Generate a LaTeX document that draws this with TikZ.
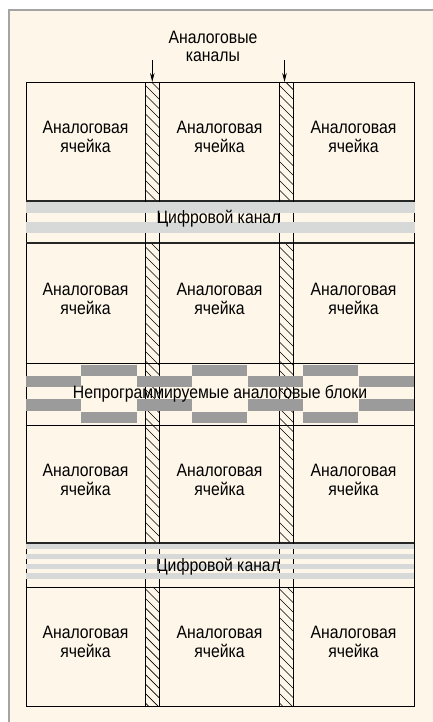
\documentclass[tikz,border=0pt]{standalone}
\usepackage{fontspec}
\setmainfont{Liberation Sans}[FakeStretch=0.88]
\usetikzlibrary{arrows.meta}
\definecolor{cream}{RGB}{254,247,233}
\definecolor{framegray}{RGB}{164,164,164}
\definecolor{lightband}{RGB}{215,216,216}
\definecolor{darkblock}{RGB}{155,155,155}
\begin{document}
\begin{tikzpicture}[x=1bp,y=-1bp,
  lbl/.style={font=\fontsize{18}{19}\selectfont, align=center, inner sep=0pt},
  gridline/.style={line width=1bp, draw=black},
  hatchline/.style={line width=0.7bp, draw=black},
  arrowline/.style={line width=0.8bp, -{Stealth[length=9bp,width=4.5bp]}},
  bandlight/.style={fill=lightband},
  blockdark/.style={fill=darkblock}]
\useasboundingbox (0,0) rectangle (433,722);
\fill[white] (0,0) rectangle (433,722);
\fill[cream] (9,10) rectangle (433,722);
\draw[framegray, line width=2.5bp] (9,722) -- (9,10) -- (433,10);

% hatched analog channels
\foreach \xa in {145,279} {
  \begin{scope}
    \clip (\xa,83) rectangle (\xa+14.5,201)
          (\xa,243) rectangle (\xa+14.5,543)
          (\xa,587) rectangle (\xa+14.5,706);
    \foreach \yy in {66,75.5,...,712} \draw[hatchline] (\xa,\yy) -- (\xa+15,\yy+15);
  \end{scope}
}

% grid
\draw[gridline] (26,83) rectangle (414,706);
\foreach \yy in {363,425,587} \draw[gridline] (26,\yy) -- (414,\yy);
\foreach \yy in {201,243,543} \draw[gridline, line width=1.3bp, draw=black!85] (26,\yy) -- (414,\yy);
\foreach \xx in {145,159.5,279,293.5} \draw[gridline] (\xx,83) -- (\xx,706);

% digital channel 1
\fill[bandlight] (26,202) rectangle (414.7,212.8);
\fill[bandlight] (26,221.8) rectangle (414.7,233.3);
% digital channel 2
\foreach \yy in {544,553.8,563.6,573.4} \fill[bandlight] (26,\yy) rectangle (414,\yy+5.4);

% non-programmable analog blocks
\foreach \k in {1,3,5} {
  \fill[blockdark] (26+55.43*\k,365) rectangle (26+55.43*\k+55.2,376);
  \fill[blockdark] (26+55.43*\k,411.7) rectangle (26+55.43*\k+55.2,422.7);
}
\foreach \k in {0,2,4,6} {
  \fill[blockdark] (26+55.43*\k,376) rectangle (26+55.43*\k+55.2,387.3);
  \fill[blockdark] (26+55.43*\k,399.3) rectangle (26+55.43*\k+55.2,410.7);
}

% title and arrows
\node[lbl] (title) at (213,46.4) {Аналоговые\\каналы};
\coordinate (a1s) at (152.3,60);
\coordinate (a1e) at (152.3,82);
\coordinate (a2s) at (284.5,60);
\coordinate (a2e) at (284.5,82);
\draw[arrowline] (a1s) -- (a1e);
\draw[arrowline] (a2s) -- (a2e);

% cells
\foreach \r/\yc in {1/137.2,2/298.5,4/479.5,5/641.5} {
  \foreach \c/\xc in {1/85.5,2/219.5,3/353.5} {
    \node[lbl] (cell\r\c) at (\xc,\yc) {Аналоговая\\ячейка};
  }
}

% channel labels
\node[lbl, anchor=base] (dig1) at (218.5,223) {Цифровой канал};
\node[lbl, anchor=base] (nonprog) at (220,398.3) {Непрограммируемые аналоговые блоки};
\node[lbl, anchor=base] (dig2) at (218,571.7) {Цифровой канал};
\end{tikzpicture}
\end{document}
